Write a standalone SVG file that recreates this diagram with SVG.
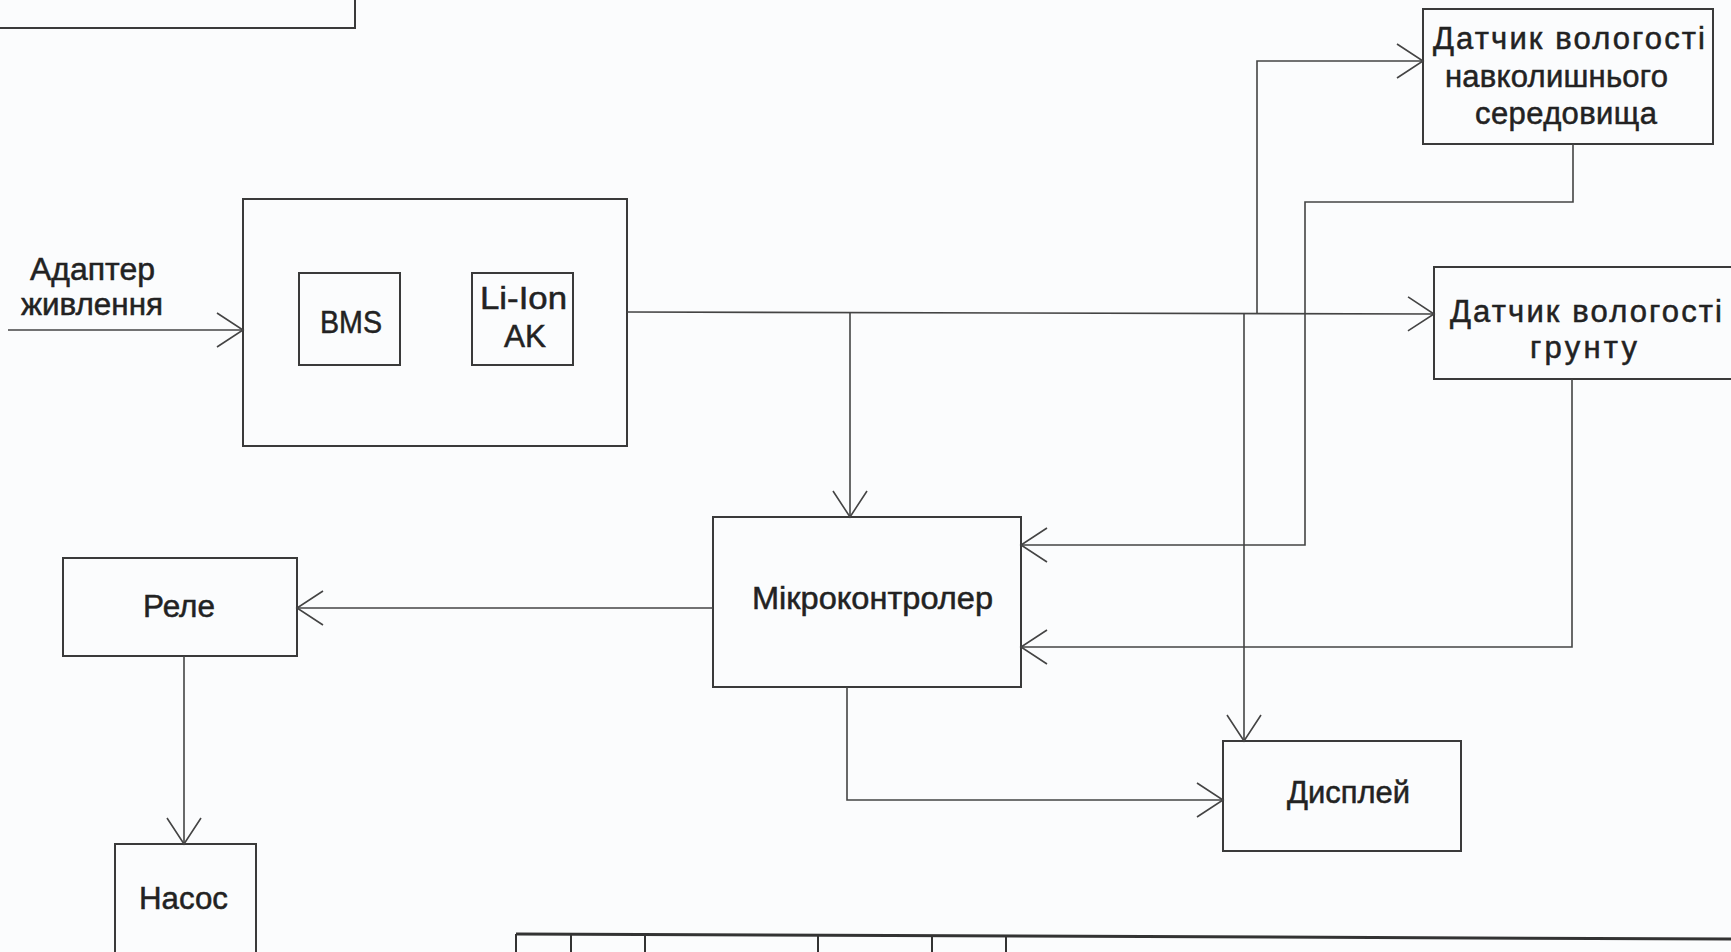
<svg xmlns="http://www.w3.org/2000/svg" width="1731" height="952" viewBox="0 0 1731 952">
<style>
.box{fill:none;stroke:#3a3a3a;stroke-width:2}
.con{fill:none;stroke:#444;stroke-width:1.6}
.t{font-family:"Liberation Sans",Arial,sans-serif;font-size:31px;fill:#222;stroke:#222;stroke-width:0.5}
.ts{font-family:"Liberation Sans",Arial,sans-serif;font-size:31px;fill:#222;stroke:#222;stroke-width:0.5}
.tbl{fill:none;stroke:#333;stroke-width:2}
</style>
<defs>
<marker id="arr" markerUnits="userSpaceOnUse" viewBox="-1 -1 30 38" refX="26" refY="17" markerWidth="30" markerHeight="38" orient="auto">
<path d="M0,0 L26,17 L0,34" fill="none" stroke="#444" stroke-width="1.6"/>
</marker>
</defs>
<rect width="1731" height="952" fill="#fbfcfd"/>

<g id="frame-top-left"><rect class="box" x="-5" y="-5" width="360" height="33"/></g>

<g id="power-block">
<rect class="box" x="243" y="199" width="384" height="247"/>
</g>
<g id="bms">
<rect class="box" x="299" y="273" width="101" height="92"/>
<text class="t" x="320" y="333" textLength="62" lengthAdjust="spacingAndGlyphs">BMS</text>
</g>
<g id="li-ion">
<rect class="box" x="472" y="273" width="101" height="92"/>
<text class="t" x="480" y="309" textLength="87" lengthAdjust="spacingAndGlyphs">Li-Ion</text>
<text class="t" x="504" y="347" textLength="42" lengthAdjust="spacingAndGlyphs">AK</text>
</g>
<g id="adapter">
<text class="t" x="30" y="280" textLength="125" lengthAdjust="spacingAndGlyphs">Адаптер</text>
<text class="t" x="21" y="315" textLength="142" lengthAdjust="spacingAndGlyphs">живлення</text>
</g>
<g id="sensor-air">
<rect class="box" x="1423" y="9" width="290" height="135"/>
<text class="ts" x="1433" y="49" textLength="272" lengthAdjust="spacing">Датчик вологості</text>
<text class="ts" x="1445" y="87" textLength="223" lengthAdjust="spacing">навколишнього</text>
<text class="ts" x="1475" y="124" textLength="182" lengthAdjust="spacing">середовища</text>
</g>
<g id="sensor-soil">
<rect class="box" x="1434" y="267" width="310" height="112"/>
<text class="ts" x="1450" y="322" textLength="272" lengthAdjust="spacing">Датчик вологості</text>
<text class="ts" x="1530" y="358" textLength="107" lengthAdjust="spacing">грунту</text>
</g>
<g id="mcu">
<rect class="box" x="713" y="517" width="308" height="170"/>
<text class="t" x="752" y="609" textLength="241" lengthAdjust="spacingAndGlyphs">Мікроконтролер</text>
</g>
<g id="relay">
<rect class="box" x="63" y="558" width="234" height="98"/>
<text class="t" x="143" y="617" textLength="72" lengthAdjust="spacingAndGlyphs">Реле</text>
</g>
<g id="pump">
<rect class="box" x="115" y="844" width="141" height="130"/>
<text class="t" x="139" y="909" textLength="89" lengthAdjust="spacingAndGlyphs">Насос</text>
</g>
<g id="display">
<rect class="box" x="1223" y="741" width="238" height="110"/>
<text class="t" x="1287" y="803" textLength="123" lengthAdjust="spacingAndGlyphs">Дисплей</text>
</g>

<g id="connectors">
<path class="con" d="M8 330 H243" marker-end="url(#arr)"/>
<path class="con" d="M627 312 L1434 314" marker-end="url(#arr)"/>
<path class="con" d="M850 313 V517" marker-end="url(#arr)"/>
<path class="con" d="M1257 313 V61 H1423" marker-end="url(#arr)"/>
<path class="con" d="M1244 313 V741" marker-end="url(#arr)"/>
<path class="con" d="M1573 144 V202 H1305 V545 H1021" marker-end="url(#arr)"/>
<path class="con" d="M1572 379 V647 H1021" marker-end="url(#arr)"/>
<path class="con" d="M713 608 H297" marker-end="url(#arr)"/>
<path class="con" d="M184 656 V844" marker-end="url(#arr)"/>
<path class="con" d="M847 687 V800 H1223" marker-end="url(#arr)"/>
</g>

<g id="title-block">
<path d="M516 934 L1731 939" fill="none" stroke="#333" stroke-width="3"/>
<path class="tbl" d="M516 934 V952 M571 934 V952 M645 934 V952 M818 935 V952 M932 935 V952 M1006 936 V952"/>
</g>
</svg>
